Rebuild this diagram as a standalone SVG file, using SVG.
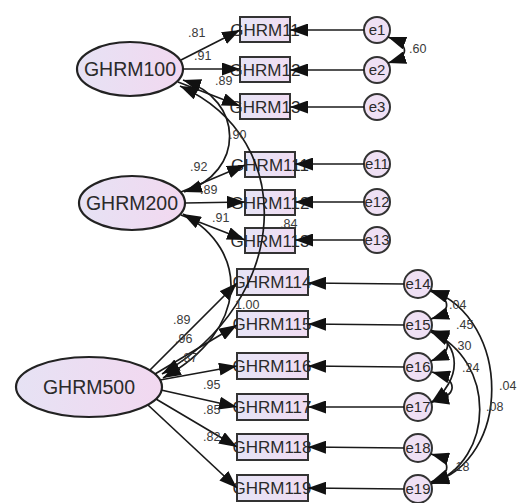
<svg xmlns="http://www.w3.org/2000/svg" width="520" height="503" viewBox="0 0 520 503">
<defs>
<linearGradient id="gl" x1="0" y1="0" x2="1" y2="0"><stop offset="0" stop-color="#e6e2f4"/><stop offset="1" stop-color="#f2d8f0"/></linearGradient>
<linearGradient id="gb" x1="0" y1="0" x2="1" y2="0"><stop offset="0" stop-color="#e6e4f6"/><stop offset="1" stop-color="#f0dcf2"/></linearGradient>
<marker id="ah" viewBox="0 0 18 13" refX="18" refY="6.5" markerWidth="18" markerHeight="13" markerUnits="userSpaceOnUse" orient="auto-start-reverse"><path d="M0,0 L18,6.5 L0,13 z" fill="#111"/></marker>
<style>
.lat{fill:url(#gl);stroke:#222;stroke-width:2.2}
.obs{fill:url(#gb);stroke:#333;stroke-width:2}
.err{fill:#efe0f4;stroke:#333;stroke-width:2}
.ln{fill:none;stroke:#1a1a1a;stroke-width:1.7;marker-end:url(#ah)}
.cv{fill:none;stroke:#1a1a1a;stroke-width:1.7;marker-start:url(#ah);marker-end:url(#ah)}
.t{font-family:"Liberation Sans",Arial,sans-serif;fill:#2a2a2a;text-anchor:middle}
.tl{font-size:19.5px}
.tb{font-size:17px}
.te{font-size:15px}
.n{font-family:"Liberation Sans",Arial,sans-serif;font-size:12.5px;fill:#3a3a3a}
</style>
</defs>
<rect width="520" height="503" fill="#fff"/>

<g id="latents">
<g id="GHRM100"><ellipse class="lat" cx="130" cy="69" rx="53" ry="27"/><text class="t tl" x="130" y="76">GHRM100</text></g>
<g id="GHRM200"><ellipse class="lat" cx="132" cy="203" rx="53" ry="27"/><text class="t tl" x="132" y="210">GHRM200</text></g>
<g id="GHRM500"><ellipse class="lat" cx="89" cy="387" rx="73" ry="30"/><text class="t tl" x="89" y="394">GHRM500</text></g>
</g>

<g id="observed">
<g id="GHRM11"><rect class="obs" x="240" y="17" width="50" height="25"/><text class="t tb" x="265" y="36">GHRM11</text></g>
<g id="GHRM12"><rect class="obs" x="240" y="57" width="50" height="25"/><text class="t tb" x="265" y="76">GHRM12</text></g>
<g id="GHRM13"><rect class="obs" x="240" y="94" width="50" height="25"/><text class="t tb" x="265" y="113">GHRM13</text></g>
<g id="GHRM111"><rect class="obs" x="245" y="152" width="50" height="25"/><text class="t tb" x="270" y="171">GHRM111</text></g>
<g id="GHRM112"><rect class="obs" x="245" y="190" width="50" height="25"/><text class="t tb" x="270" y="209">GHRM112</text></g>
<g id="GHRM113"><rect class="obs" x="245" y="228" width="50" height="25"/><text class="t tb" x="270" y="247">GHRM113</text></g>
<g id="GHRM114"><rect class="obs" x="237" y="269" width="71" height="26"/><text class="t tb" x="272" y="288">GHRM114</text></g>
<g id="GHRM115"><rect class="obs" x="237" y="311" width="71" height="26"/><text class="t tb" x="272" y="330">GHRM115</text></g>
<g id="GHRM116"><rect class="obs" x="237" y="353" width="71" height="26"/><text class="t tb" x="272" y="372">GHRM116</text></g>
<g id="GHRM117"><rect class="obs" x="237" y="394" width="71" height="26"/><text class="t tb" x="272" y="413">GHRM117</text></g>
<g id="GHRM118"><rect class="obs" x="237" y="434" width="71" height="26"/><text class="t tb" x="272" y="453">GHRM118</text></g>
<g id="GHRM119"><rect class="obs" x="237" y="475" width="71" height="26"/><text class="t tb" x="272" y="494">GHRM119</text></g>
</g>

<g id="errors">
<g id="e1"><circle class="err" cx="377" cy="30" r="13"/><text class="t te" x="377" y="35">e1</text></g>
<g id="e2"><circle class="err" cx="377" cy="70" r="13"/><text class="t te" x="377" y="75">e2</text></g>
<g id="e3"><circle class="err" cx="377" cy="107" r="13"/><text class="t te" x="377" y="112">e3</text></g>
<g id="e11"><circle class="err" cx="377" cy="164" r="13"/><text class="t te" x="377" y="169">e11</text></g>
<g id="e12"><circle class="err" cx="377" cy="202" r="13"/><text class="t te" x="377" y="207">e12</text></g>
<g id="e13"><circle class="err" cx="377" cy="240" r="13"/><text class="t te" x="377" y="245">e13</text></g>
<g id="e14"><circle class="err" cx="418" cy="284" r="14"/><text class="t te" x="418" y="289">e14</text></g>
<g id="e15"><circle class="err" cx="418" cy="325" r="14"/><text class="t te" x="418" y="330">e15</text></g>
<g id="e16"><circle class="err" cx="418" cy="367" r="14"/><text class="t te" x="418" y="372">e16</text></g>
<g id="e17"><circle class="err" cx="418" cy="407" r="14"/><text class="t te" x="418" y="412">e17</text></g>
<g id="e18"><circle class="err" cx="418" cy="448" r="14"/><text class="t te" x="418" y="453">e18</text></g>
<g id="e19"><circle class="err" cx="418" cy="489" r="14"/><text class="t te" x="418" y="494">e19</text></g>
</g>

<g id="connectors">
<path class="ln" d="M181,60 L240,30"/>
<path class="ln" d="M183,69 L240,69"/>
<path class="ln" d="M178,82 L240,106"/>
<path class="ln" d="M181,192 L245,165"/>
<path class="ln" d="M185,203 L245,202"/>
<path class="ln" d="M181,215 L245,240"/>
<path class="ln" d="M150,370 L237,283"/>
<path class="ln" d="M155,374 L237,325"/>
<path class="ln" d="M160,380 L237,366"/>
<path class="ln" d="M161,390 L237,407"/>
<path class="ln" d="M156,399 L237,447"/>
<path class="ln" d="M148,405 L237,488"/>
<path class="ln" d="M364,30 L290,30"/>
<path class="ln" d="M364,70 L290,70"/>
<path class="ln" d="M364,107 L290,107"/>
<path class="ln" d="M364,164 L295,164"/>
<path class="ln" d="M364,202 L295,202"/>
<path class="ln" d="M364,240 L295,240"/>
<path class="ln" d="M404,284 L308,283"/>
<path class="ln" d="M404,325 L308,324"/>
<path class="ln" d="M404,367 L308,366"/>
<path class="ln" d="M404,407 L308,407"/>
<path class="ln" d="M404,448 L308,447"/>
<path class="ln" d="M404,489 L308,488"/>
<path class="cv" d="M183,80 C245,100 245,172 184,192"/>
<path class="cv" d="M180,86 C300,140 290,300 162,374"/>
<path class="cv" d="M183,214 C250,250 250,330 163,378"/>
<path class="cv" d="M388,37 C410,45 410,56 388,63"/>
<path class="cv" d="M430,291 C452,298 452,312 431,319"/>
<path class="cv" d="M431,331 C453,338 453,352 431,361"/>
<path class="cv" d="M432,372 C460,380 458,396 431,402"/>
<path class="cv" d="M431,330 C462,345 462,380 431,403"/>
<path class="cv" d="M431,290 C512,320 512,460 431,483"/>
<path class="cv" d="M431,332 C496,360 496,460 431,484"/>
<path class="cv" d="M431,454 C452,460 452,474 431,482"/>
</g>

<g id="labels">
<text class="n" x="188" y="37">.81</text>
<text class="n" x="194" y="60">.91</text>
<text class="n" x="215" y="85">.89</text>
<text class="n" x="229" y="139">.90</text>
<text class="n" x="190" y="171">.92</text>
<text class="n" x="200" y="194">.89</text>
<text class="n" x="212" y="222">.91</text>
<text class="n" x="280" y="228" font-size="11">.84</text>
<text class="n" x="235" y="309">1.00</text>
<text class="n" x="173" y="324">.89</text>
<text class="n" x="175" y="343">.96</text>
<text class="n" x="180" y="362">.87</text>
<text class="n" x="203" y="389">.95</text>
<text class="n" x="203" y="414">.85</text>
<text class="n" x="203" y="441">.82</text>
<text class="n" x="409" y="53">.60</text>
<text class="n" x="449" y="309">.04</text>
<text class="n" x="456" y="329">.45</text>
<text class="n" x="454" y="350">.30</text>
<text class="n" x="462" y="372">.24</text>
<text class="n" x="499" y="390">.04</text>
<text class="n" x="486" y="411">.08</text>
<text class="n" x="452" y="471">.18</text>
</g>
</svg>
